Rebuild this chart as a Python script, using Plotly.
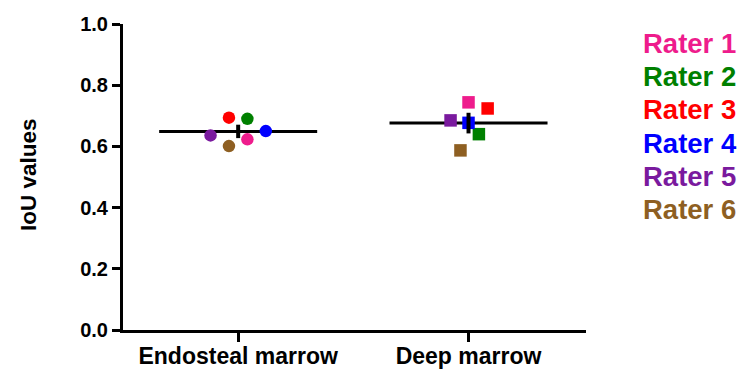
import numpy as np
import plotly.graph_objects as go

categories = ["Endosteal marrow", "Deep marrow"]
raters = ["Rater 1", "Rater 2", "Rater 3", "Rater 4", "Rater 5", "Rater 6"]
rater_colors = ["#EE1C8C", "#008000", "#FF0000", "#0000FF", "#7A1A9E", "#8E5F22"]

# IoU values per rater, in category order
endosteal_values = [0.623, 0.690, 0.694, 0.650, 0.636, 0.601]
deep_values = [0.744, 0.640, 0.724, 0.677, 0.685, 0.587]

# horizontal scatter offsets (category units) of each rater's dot
endosteal_offsets = [0.04, 0.04, -0.04, 0.12, -0.12, -0.04]
deep_offsets = [0.0, 0.045, 0.083, 0.0, -0.078, -0.035]

series = [endosteal_values, deep_values]
offsets = [endosteal_offsets, deep_offsets]
symbols = ["circle", "square"]

FONT = "Liberation Sans, Arial"
OFF = 8  # page body margin
W, H = 745 - OFF, 370 - OFF
L, T = 123 - OFF, 24 - OFF
R = W - (586 - OFF)
B = H - (330 - OFF)
PW, PH = W - L - R, H - T - B

fig = go.Figure()

# mean lines
for ci, vals in enumerate(series):
    m = float(np.mean(vals))
    fig.add_trace(go.Scatter(x=[ci - 0.343, ci + 0.343], y=[m, m], mode="lines",
                             line=dict(color="black", width=3), showlegend=False, hoverinfo="skip"))

# rater points
for ci, vals in enumerate(series):
    for ri, val in enumerate(vals):
        fig.add_trace(go.Scatter(
            x=[ci + offsets[ci][ri]], y=[val], mode="markers", name=raters[ri],
            marker=dict(symbol=symbols[ci], size=12.5, color=rater_colors[ri], line=dict(width=0)),
            showlegend=False))

# SEM bars
for ci, vals in enumerate(series):
    v = np.array(vals)
    m = v.mean()
    sem = v.std(ddof=1) / np.sqrt(len(v))
    fig.add_trace(go.Scatter(x=[ci], y=[m], mode="markers",
                             marker=dict(size=1, color="rgba(0,0,0,0)"),
                             error_y=dict(type="data", array=[sem * 1.45], color="black", thickness=4, width=0),
                             showlegend=False, hoverinfo="skip"))

# coloured legend text
for ri, name in enumerate(raters):
    ypx = 43 + ri * 33.4 - OFF
    fig.add_annotation(x=(641 - OFF - L) / PW, y=1 - (ypx - T) / PH,
                       xref="paper", yref="paper", xanchor="left", yanchor="middle",
                       text=f"<b>{name}</b>", showarrow=False,
                       font=dict(size=27.5, color=rater_colors[ri], family=FONT))

# y axis title
fig.add_annotation(x=(28 - OFF - L) / PW, y=1 - (175 - OFF - T) / PH, xref="paper", yref="paper",
                   xanchor="center", yanchor="middle", textangle=-90, showarrow=False,
                   text="<b>IoU values</b>", font=dict(size=22.5, color="black", family=FONT))

fig.update_layout(
    width=W, height=H,
    margin=dict(l=L, r=R, t=T, b=B, autoexpand=False),
    plot_bgcolor="white", paper_bgcolor="white",
    font=dict(family=FONT, color="black"),
    showlegend=False,
)
fig.update_xaxes(
    range=[-0.5, 1.51], tickmode="array", tickvals=[0, 1],
    ticktext=[f"<b>{c}</b>" for c in categories],
    showline=True, linecolor="black", linewidth=3, ticks="outside", ticklen=9, tickwidth=3,
    tickcolor="black", showgrid=False, zeroline=False, tickfont=dict(size=23), automargin=False,
    ticklabelstandoff=-6,
)
fig.update_yaxes(
    range=[0, 1.0], tickmode="array", tickvals=[0, 0.2, 0.4, 0.6, 0.8, 1.0],
    ticktext=["<b>0.0</b>", "<b>0.2</b>", "<b>0.4</b>", "<b>0.6</b>", "<b>0.8</b>", "<b>1.0</b>"],
    showline=True, linecolor="black", linewidth=3, ticks="outside", ticklen=8, tickwidth=3,
    tickcolor="black", showgrid=False, zeroline=False, tickfont=dict(size=20), automargin=False,
)

fig.write_html("out.html")
